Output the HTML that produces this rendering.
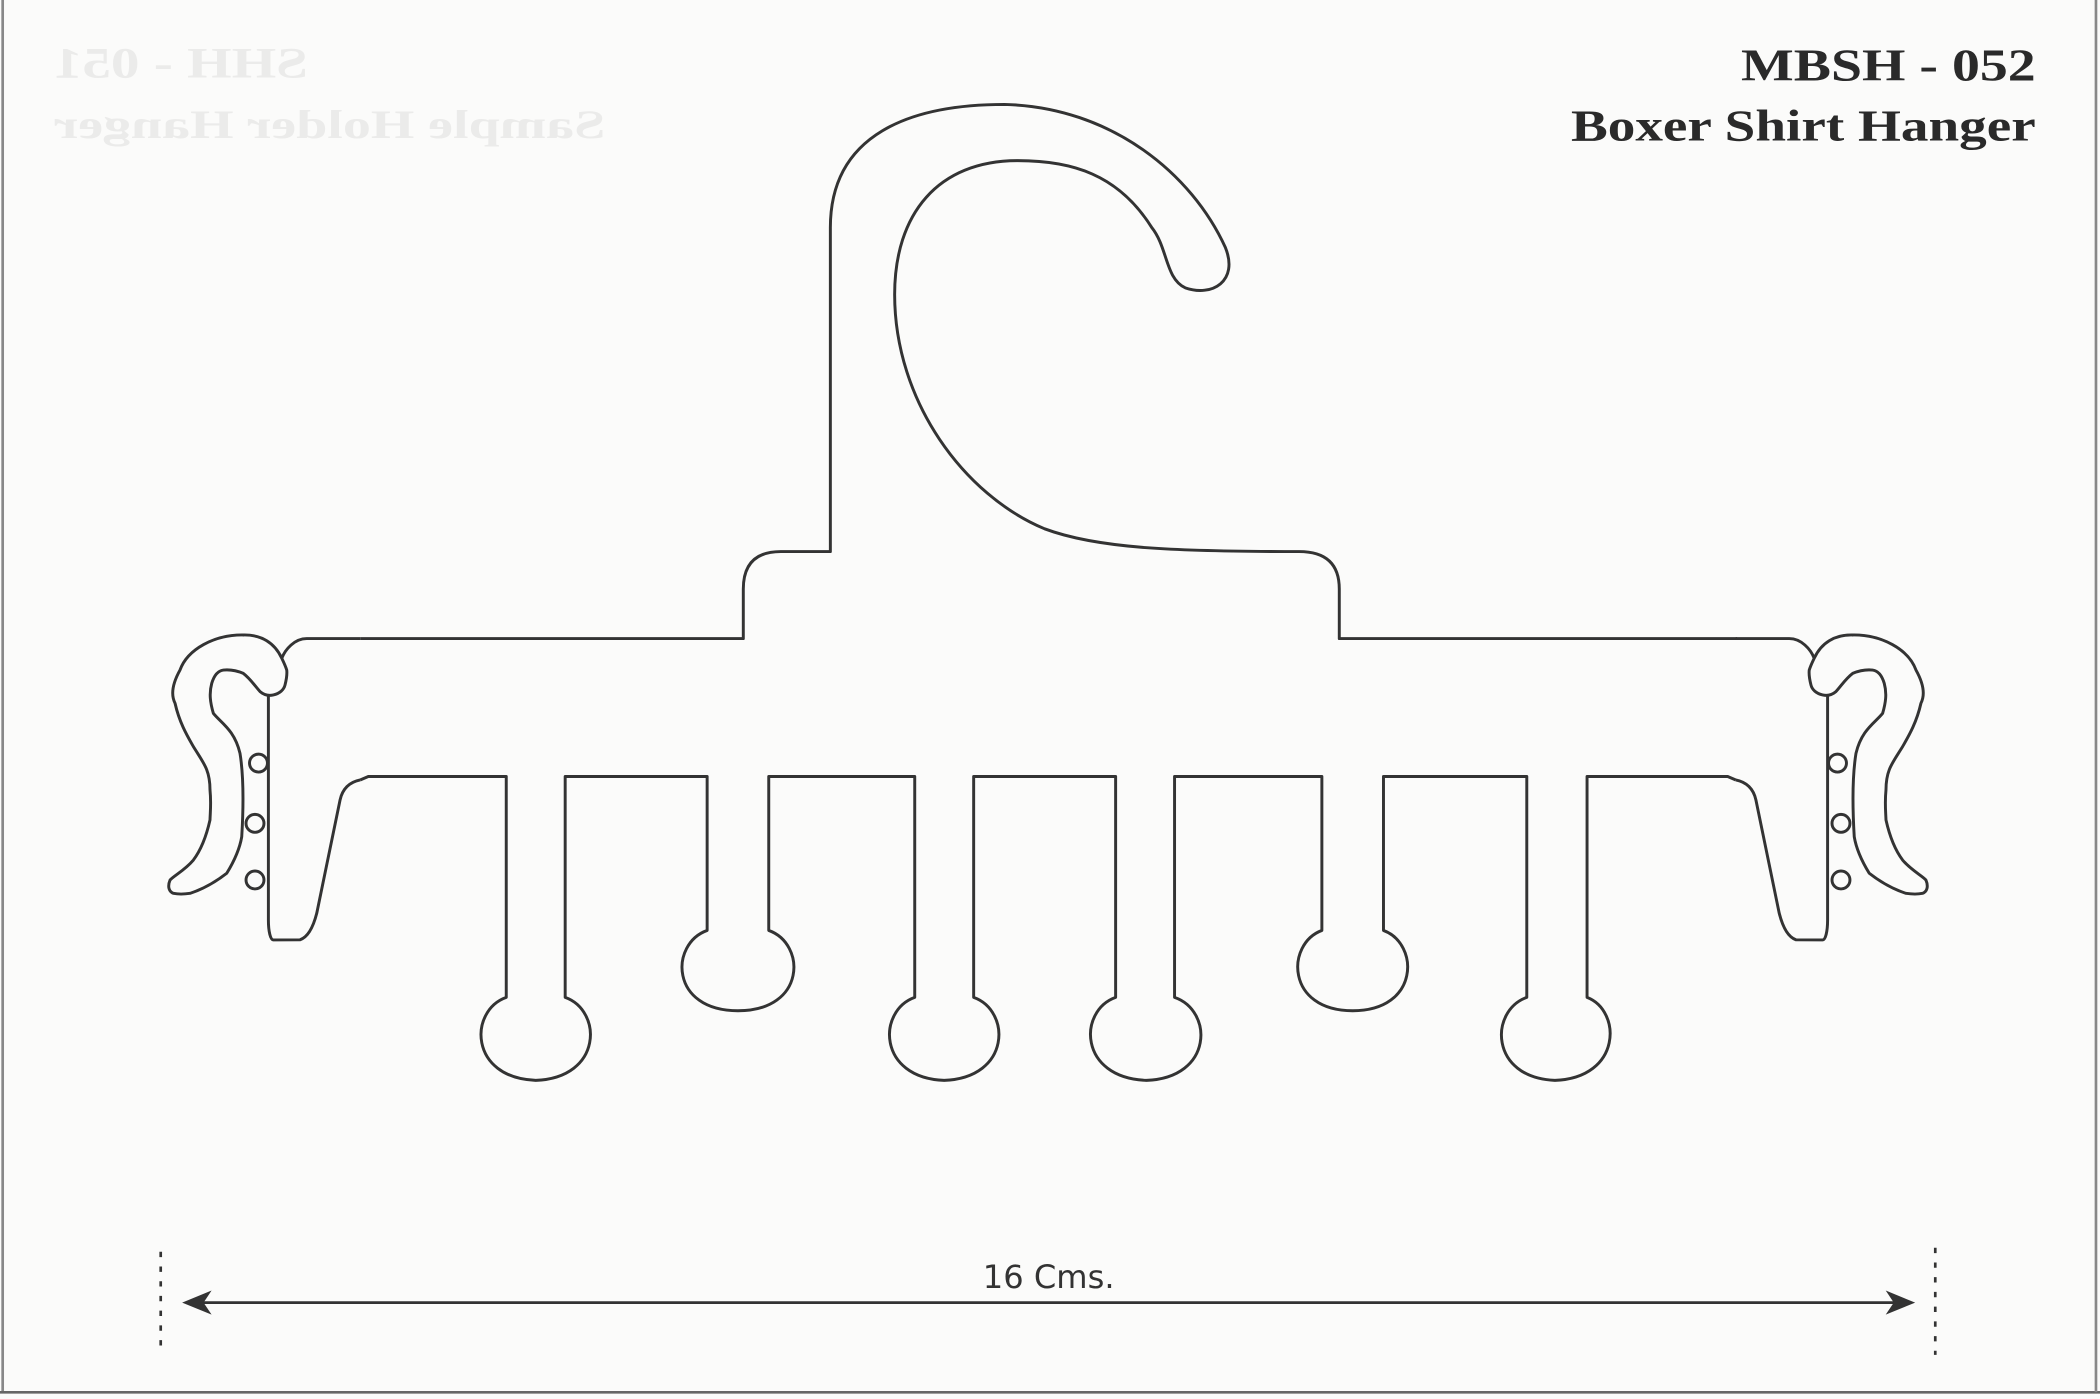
<!DOCTYPE html>
<html><head><meta charset="utf-8"><style>
html,body{margin:0;padding:0;background:#fbfbfa;}
svg{display:block}
</style></head><body>
<svg width="2100" height="1399" viewBox="0 0 1568 1045" preserveAspectRatio="none" xmlns="http://www.w3.org/2000/svg">
<rect x="0" y="0" width="1568" height="1045" fill="#fbfbfa"/>
<line x1="2" y1="0" x2="2" y2="1040" stroke="#888" stroke-width="2"/>
<line x1="0" y1="1040" x2="1568" y2="1040" stroke="#666" stroke-width="2"/>
<line x1="1565" y1="0" x2="1565" y2="1040" stroke="#888" stroke-width="2"/>
<g transform="scale(-1,1)" fill="#ebebea" font-family="Liberation Serif, serif" font-weight="bold">
<text x="-230" y="58" font-size="32" textLength="190" lengthAdjust="spacingAndGlyphs">SHH - 051</text>
<text x="-452" y="103" font-size="30" textLength="412" lengthAdjust="spacingAndGlyphs">Sample Holder Hanger</text>
</g>
<text x="1300" y="60" font-family="Liberation Serif, serif" font-weight="bold" font-size="34" fill="#2a2a2a" textLength="220" lengthAdjust="spacingAndGlyphs">MBSH - 052</text>
<text x="1173" y="105" font-family="Liberation Serif, serif" font-weight="bold" font-size="33" fill="#2a2a2a" textLength="347" lengthAdjust="spacingAndGlyphs">Boxer Shirt Hanger</text>

<g fill="none" stroke="#333" stroke-width="2.2" stroke-linejoin="round">
<path d="M269,477 L555,477 L555,440 Q555,412 583,412 L620,412 L620,170
 C620,100 680,78 750,78 C830,80 890,130 915,185 C925,210 905,222 885,215 C870,208 872,185 860,170
 C835,130 800,120 760,120 C700,120 668,160 668,220 C668,300 720,370 780,395 C820,410 880,412 970,412
 Q1000,412 1000,440 L1000,477 L1297,477"/>
<path d="M268.9,582.6 L275,580 L378,580 L378,745
 C350,755 350,805 400,807 C450,805 450,755 422,745 L422,580 L528,580 L528,695
 C500,705 500,755 551,755 C602,755 602,705 574,695 L574,580 L683,580 L683,745
 C655,755 655,805 705,807 C755,805 755,755 727,745 L727,580 L833,580 L833,745
 C805,755 805,805 856,807 C906,805 906,755 877,745 L877,580 L987,580 L987,695
 C960,705 960,755 1010,755 C1060,755 1060,705 1033,695 L1033,580 L1140,580 L1140,745
 C1112,755 1112,805 1161,807 C1211,805 1211,755 1185,745 L1185,580 L1290,580 L1296.1,582.6"/>
<g id="hk">
<path d="M269,477 L229,477 C220,477 213,485 210.4,491.7
 C205,480 195,474 181.7,474.3 C160,474 140,485 134.4,500.5 C128,512 128,520 130.7,525.3
 C134,540 140,550 144.4,557.7 C152,570 156.8,575 156.8,590 C157.8,600 157,606 156.8,612.5
 C154,625 150,635 144.4,642.4 C138,650 130,654 127,657.3 C125,662 126,666 129.5,667.3 C133,668 137,668 141.9,667.3
 C152,664 162,658 169.3,652.3 C175,643 179,634 180.5,625 C182,600 182,580 179.2,562.7
 C175,545 165,540 159.3,532.8 C157,525 156,518 158.1,510.4 C160,504 163,501 166.8,500.5
 C172,500 177,501 181.7,503 C187,507 190,512 194.2,516.6 C197,519 200,520 204.1,519.1
 C209,518 212,515 212.8,511.7 C214,507 214.5,504 214.1,500.5 C213,497 211.5,494 210.4,491.7"/>
<path d="M200.4,519.1 L200.4,687.2 C200.4,696 202,702 204.1,702.1 L224,702 C230,700 234,692 236.5,682.2 L253.9,597.6 C256,588 262,584 268.9,582.6"/>
<circle cx="193" cy="570" r="6.7"/><circle cx="190.4" cy="615" r="6.7"/><circle cx="190.4" cy="657.3" r="6.7"/>
</g>
<use href="#hk" transform="translate(1565,0) scale(-1,1)"/>
</g>

<g stroke="#333" stroke-width="2" fill="#333">
<line x1="120" y1="935" x2="120" y2="1012" stroke-dasharray="4,7"/>
<line x1="1445" y1="932" x2="1445" y2="1012" stroke-dasharray="4,7"/>
<line x1="150" y1="973" x2="1415" y2="973"/>
<path d="M136,973 L158,964 L152,973 L158,982 Z" stroke="none"/>
<path d="M1430,973 L1408,964 L1414,973 L1408,982 Z" stroke="none"/>
</g>
<text x="783" y="962" text-anchor="middle" font-family="DejaVu Sans, sans-serif" font-size="24" fill="#333">16 Cms.</text>
</svg>
</body></html>
